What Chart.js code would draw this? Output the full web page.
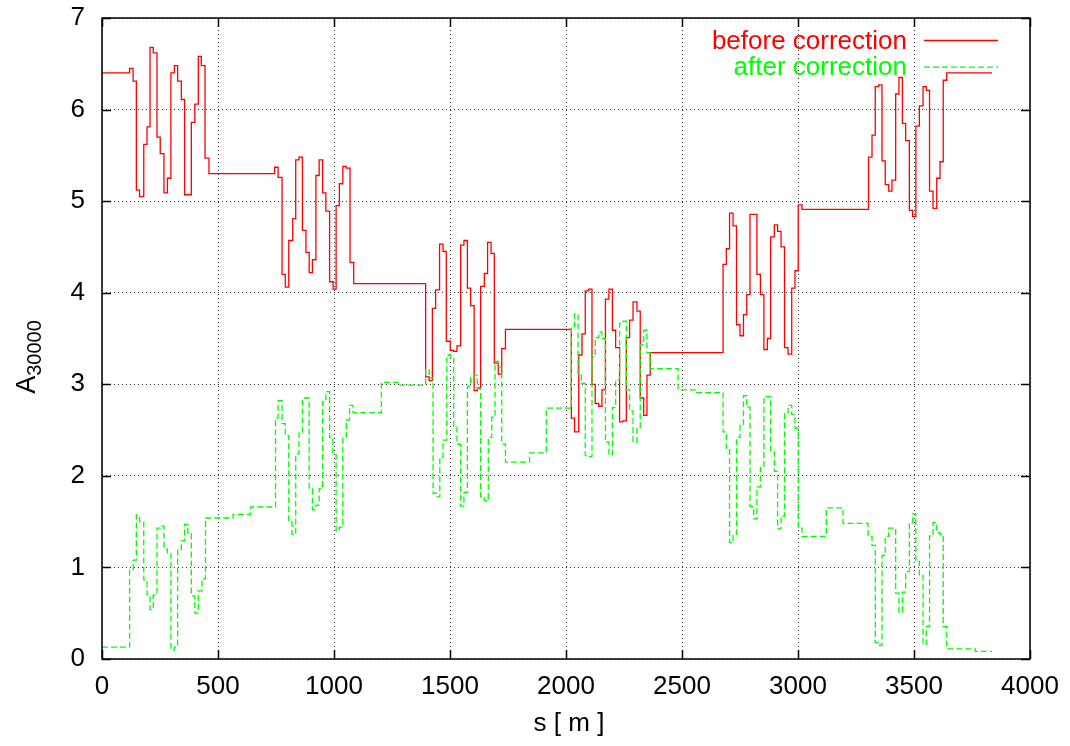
<!DOCTYPE html>
<html>
<head>
<meta charset="utf-8">
<title>A30000 along the ring</title>
<script src="https://cdn.jsdelivr.net/npm/chart.js@4.4.1/dist/chart.umd.min.js"></script>
<style>
  html, body { margin: 0; padding: 0; background: #fff; }
  #plot { display: block; }
</style>
</head>
<body>
<canvas id="plot" width="1070" height="746"></canvas>
<script>
// segment start positions s [m] and A30000 held over each segment
let sBefore = [0, 119, 134, 148, 162, 180, 194, 207, 221, 237, 251, 267, 282, 297, 312, 326, 342, 356, 385, 400,
        415, 428, 444, 461, 744, 759, 776, 790, 805, 822, 835, 849, 864, 879, 893, 907, 922, 936, 951, 965,
        981, 996, 1009, 1023, 1038, 1052, 1069, 1085, 1395, 1410, 1424, 1438, 1455, 1470, 1484, 1501, 1516, 1530, 1546, 1560,
        1575, 1589, 1604, 1618, 1632, 1648, 1662, 1677, 1691, 1708, 1723, 1739, 2023, 2037, 2055, 2069, 2083, 2098, 2112, 2126,
        2141, 2155, 2170, 2185, 2200, 2214, 2231, 2246, 2260, 2274, 2289, 2306, 2320, 2335, 2349, 2363, 2677, 2691, 2705, 2720,
        2735, 2750, 2765, 2779, 2793, 2823, 2838, 2853, 2868, 2882, 2898, 2912, 2927, 2942, 2957, 2973, 2987, 3001, 3017, 3304,
        3319, 3333, 3348, 3362, 3376, 3391, 3405, 3421, 3435, 3450, 3464, 3480, 3494, 3508, 3523, 3539, 3553, 3567, 3582, 3598,
        3612, 3626, 3641],
    aBefore = [6.40, 6.45, 6.31, 5.12, 5.05, 5.62, 5.81, 6.68, 6.62, 5.70, 5.52, 5.09, 5.25, 6.40, 6.48, 6.31, 6.11, 5.07, 5.86, 6.06,
        6.58, 6.48, 5.47, 5.30, 5.37, 5.26, 4.20, 4.06, 4.57, 4.81, 5.45, 5.48, 4.68, 4.44, 4.22, 4.36, 5.28, 5.45, 5.09, 4.89,
        4.12, 4.04, 4.95, 5.19, 5.38, 5.36, 4.33, 4.10, 3.08, 3.04, 3.83, 4.03, 4.53, 4.45, 3.47, 3.37, 3.36, 3.42, 4.52, 4.57,
        4.05, 3.86, 2.93, 2.96, 4.07, 4.21, 4.55, 4.43, 3.23, 3.11, 3.39, 3.60, 2.63, 2.48, 3.32, 3.55, 4.02, 4.04, 3.00, 2.79,
        2.76, 2.94, 3.93, 4.04, 3.59, 3.40, 2.59, 2.60, 3.51, 3.70, 3.90, 3.80, 2.85, 2.66, 3.10, 3.345, 4.31, 4.48, 4.87, 4.73,
        3.65, 3.53, 3.76, 3.98, 4.855, 4.20, 3.98, 3.38, 3.50, 4.61, 4.74, 4.67, 4.50, 3.40, 3.33, 4.05, 4.24, 4.96, 4.91, 5.48,
        5.72, 6.25, 6.27, 5.44, 5.18, 5.11, 5.23, 6.17, 6.35, 5.85, 5.66, 4.90, 4.83, 5.82, 6.04, 6.25, 6.21, 5.11, 4.92, 5.25,
        5.43, 6.32, 6.40],
    sAfter = [0, 119, 134, 148, 162, 180, 194, 207, 221, 237, 251, 267, 282, 297, 312, 326, 342, 356, 370, 385,
        400, 415, 431, 446, 565, 641, 748, 759, 776, 790, 805, 819, 835, 849, 864, 893, 907, 922, 936, 951,
        965, 981, 995, 1009, 1023, 1038, 1053, 1067, 1082, 1204, 1276, 1395, 1410, 1427, 1441, 1456, 1470, 1486, 1501, 1516,
        1530, 1546, 1560, 1575, 1589, 1604, 1618, 1632, 1648, 1665, 1680, 1694, 1708, 1723, 1739, 1843, 1915, 2023, 2037, 2052,
        2066, 2083, 2098, 2112, 2126, 2141, 2155, 2170, 2185, 2200, 2214, 2231, 2246, 2260, 2274, 2289, 2306, 2320, 2335, 2349,
        2363, 2483, 2562, 2677, 2691, 2705, 2720, 2735, 2750, 2765, 2779, 2793, 2809, 2823, 2838, 2853, 2882, 2898, 2912, 2927,
        2942, 2957, 2973, 2987, 3001, 3017, 3122, 3194, 3302, 3319, 3333, 3348, 3362, 3376, 3391, 3421, 3435, 3450, 3464, 3480,
        3494, 3508, 3523, 3539, 3553, 3567, 3582, 3598, 3612, 3626, 3641, 3764],
    aAfter = [0.13, 0.97, 1.08, 1.57, 1.50, 0.865, 0.70, 0.54, 0.70, 1.43, 1.45, 1.20, 1.16, 0.10, 0.13, 1.19, 1.29, 1.47, 1.37, 0.69,
        0.50, 0.745, 0.876, 1.54, 1.58, 1.66, 2.63, 2.82, 2.57, 2.44, 1.50, 1.36, 2.24, 2.47, 2.85, 1.86, 1.63, 1.68, 1.86, 2.81,
        2.92, 2.42, 2.25, 1.40, 1.44, 2.41, 2.61, 2.77, 2.69, 3.02, 2.99, 3.16, 3.07, 1.81, 1.77, 2.20, 2.39, 3.32, 3.30, 2.54,
        2.345, 1.67, 1.82, 2.98, 3.07, 3.10, 2.95, 1.77, 1.73, 2.42, 2.64, 3.25, 3.185, 2.35, 2.15, 2.25, 2.74, 3.63, 3.77, 3.10,
        3.01, 2.22, 2.21, 3.30, 3.51, 3.57, 3.50, 2.37, 2.23, 2.745, 3.05, 3.665, 3.69, 2.94, 2.71, 2.37, 2.52, 3.43, 3.59, 3.345,
        3.17, 2.94, 2.91, 2.48, 2.30, 1.27, 1.36, 2.42, 2.55, 2.875, 2.75, 1.665, 1.53, 1.88, 2.09, 2.865, 2.26, 2.05, 1.42, 1.56,
        2.68, 2.77, 2.67, 2.52, 1.43, 1.34, 1.65, 1.48, 1.34, 1.24, 0.18, 0.15, 1.13, 1.34, 1.43, 0.72, 0.51, 0.73, 0.955, 1.49,
        1.585, 1.065, 0.92, 0.16, 0.355, 1.345, 1.49, 1.38, 1.36, 0.355, 0.11, 0.083],
    sEnd = 3836,
    xTicks = [0, 500, 1000, 1500, 2000, 2500, 3000, 3500, 4000],
    yTicks = [0, 1, 2, 3, 4, 5, 6, 7],
    seriesNames = ['before correction', 'after correction'];

let fontFamily = '"Liberation Sans", Arial, Helvetica, sans-serif';

// turn segment starts + values into points for a stepped line
function toSteps(s, a) {
    let pts = [];
    for (let i = 0; i < s.length; i++) {
        pts.push({ x: s[i], y: a[i] });
    }
    pts.push({ x: sEnd, y: a[a.length - 1] });
    return pts;
}

// frame, inward ticks on all sides, key and axis titles
const plotDecor = {
    id: 'plotDecor',
    afterDatasetsDraw(chart) {
        const ctx = chart.ctx, area = chart.chartArea;
        const xs = chart.scales.x, ys = chart.scales.y;
        ctx.save();

        ctx.strokeStyle = '#000';
        ctx.lineWidth = 1.5;
        ctx.beginPath();
        xTicks.forEach(function (v) {
            let px = Math.round(xs.getPixelForValue(v)) + 0.5;
            ctx.moveTo(px, area.bottom); ctx.lineTo(px, area.bottom - 9);
            ctx.moveTo(px, area.top); ctx.lineTo(px, area.top + 9);
        });
        yTicks.forEach(function (v) {
            let py = Math.round(ys.getPixelForValue(v)) + 0.5;
            ctx.moveTo(area.left, py); ctx.lineTo(area.left + 9, py);
            ctx.moveTo(area.right, py); ctx.lineTo(area.right - 9, py);
        });
        ctx.stroke();
        ctx.strokeRect(area.left, area.top, area.right - area.left, area.bottom - area.top);

        // key, top right, text right-aligned with a line sample after it
        ctx.font = '26px ' + fontFamily;
        ctx.textAlign = 'right';
        ctx.textBaseline = 'alphabetic';
        chart.data.datasets.forEach(function (ds, i) {
            let yBase = 48.5 + i * 26.7;
            ctx.fillStyle = ds.borderColor;
            ctx.fillText(ds.label, 907, yBase);
            ctx.strokeStyle = ds.borderColor;
            ctx.lineWidth = ds.borderWidth;
            ctx.setLineDash(ds.borderDash || []);
            ctx.beginPath();
            ctx.moveTo(924, yBase - 8);
            ctx.lineTo(998, yBase - 8);
            ctx.stroke();
        });
        ctx.setLineDash([]);

        // x title
        ctx.fillStyle = '#000';
        ctx.textAlign = 'center';
        ctx.textBaseline = 'middle';
        ctx.fillText('s [ m ]', (area.left + area.right) / 2 + 3, 724);

        // y title: A with subscript 30000, rotated
        ctx.save();
        ctx.translate(35, 357);
        ctx.rotate(-Math.PI / 2);
        ctx.textAlign = 'left';
        ctx.textBaseline = 'alphabetic';
        ctx.font = '27px ' + fontFamily;
        let wA = ctx.measureText('A').width;
        ctx.font = '20px ' + fontFamily;
        let wSub = ctx.measureText('30000').width;
        let x0 = -(wA + wSub) / 2;
        ctx.font = '27px ' + fontFamily;
        ctx.fillText('A', x0, 0);
        ctx.font = '20px ' + fontFamily;
        ctx.fillText('30000', x0 + wA, 6);
        ctx.restore();

        ctx.restore();
    }
};

const gridDots = 'rgba(0, 0, 0, 0.8)';

function plainTick(value) {
    return String(value);
}

new Chart(document.getElementById('plot'), {
    type: 'line',
    data: {
        datasets: [{
            label: seriesNames[0],
            data: toSteps(sBefore, aBefore),
            borderColor: '#ff0000',
            borderWidth: 1.3,
            stepped: 'before',
            pointRadius: 0,
            fill: false,
            order: 1
        }, {
            label: seriesNames[1],
            data: toSteps(sAfter, aAfter),
            borderColor: '#00ff00',
            borderWidth: 1.3,
            borderDash: [6, 3],
            stepped: 'before',
            pointRadius: 0,
            fill: false,
            order: 0
        }]
    },
    options: {
        responsive: false,
        animation: false,
        devicePixelRatio: 1,
        layout: { padding: { top: 18, right: 40, left: 0, bottom: 0 } },
        plugins: {
            legend: { display: false },
            tooltip: { enabled: false }
        },
        scales: {
            x: {
                type: 'linear',
                min: 0,
                max: 4000,
                afterBuildTicks: function (scale) {
                    scale.ticks = xTicks.map(function (v) { return { value: v }; });
                },
                afterFit: function (scale) {
                    scale.height = 87;
                    scale.paddingLeft = 0;
                    scale.paddingRight = 0;
                },
                ticks: {
                    color: '#000',
                    font: { family: fontFamily, size: 26 },
                    padding: 12,
                    maxRotation: 0,
                    autoSkip: false,
                    callback: plainTick
                },
                grid: { color: gridDots, lineWidth: 1, drawTicks: false },
                border: { display: false, dash: [1, 3] }
            },
            y: {
                type: 'linear',
                min: 0,
                max: 7,
                afterBuildTicks: function (scale) {
                    scale.ticks = yTicks.map(function (v) { return { value: v }; });
                },
                afterFit: function (scale) {
                    scale.width = 102;
                    scale.paddingTop = 0;
                    scale.paddingBottom = 0;
                },
                ticks: {
                    color: '#000',
                    font: { family: fontFamily, size: 26 },
                    padding: 17,
                    callback: plainTick
                },
                grid: { color: gridDots, lineWidth: 1, drawTicks: false },
                border: { display: false, dash: [1, 3] }
            }
        }
    },
    plugins: [plotDecor]
});
</script>
</body>
</html>
